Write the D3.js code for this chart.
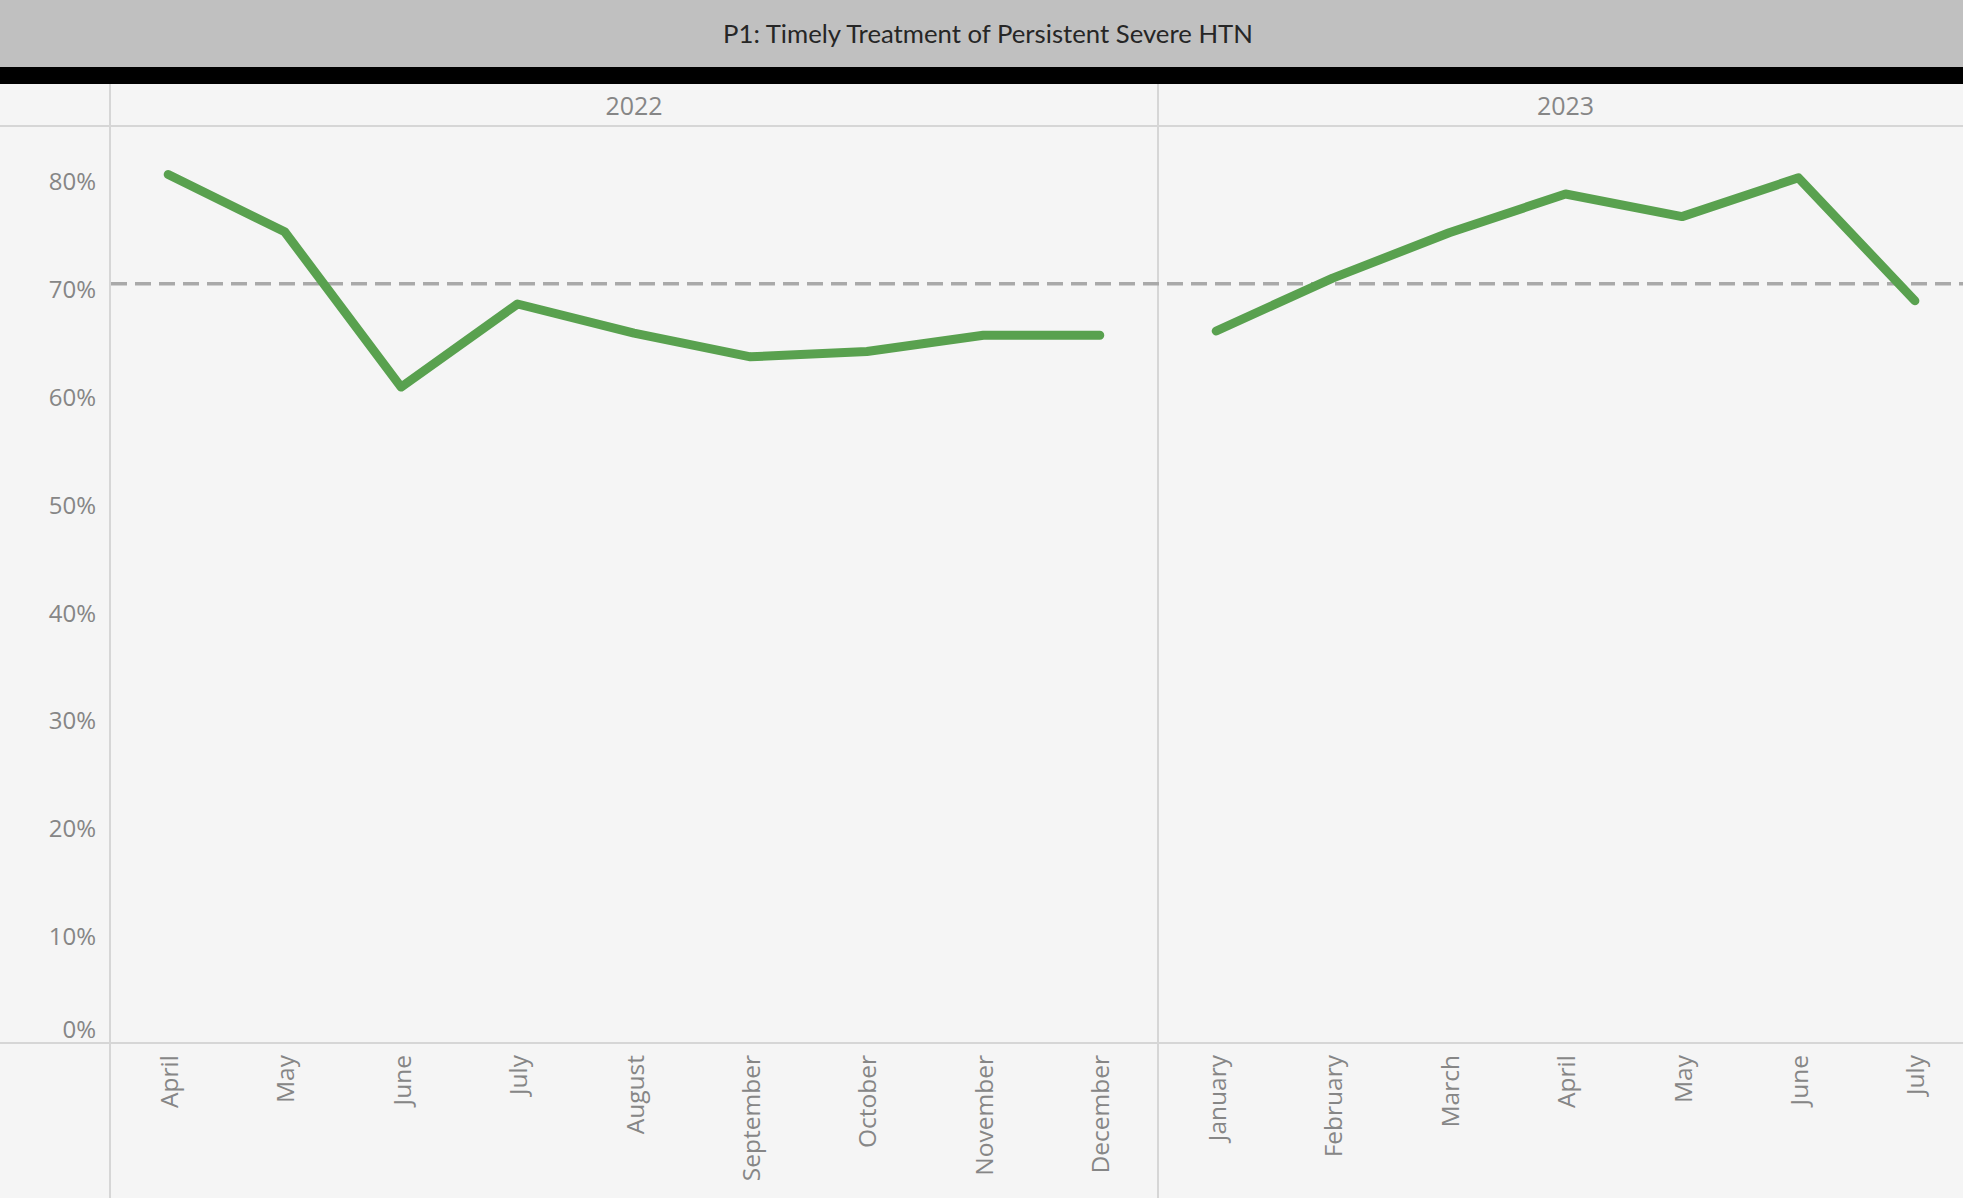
<!DOCTYPE html>
<html><head><meta charset="utf-8">
<script src="https://cdn.jsdelivr.net/npm/d3@7"></script>
<style>html,body{margin:0;padding:0;background:#f5f5f5;overflow:hidden}</style>
</head><body>
<svg id="c" width="1963" height="1198"></svg>
<script>
// ---- data ----
const title = "P1: Timely Treatment of Persistent Severe HTN";
const years = ["2022", "2023"];
const months2022 = ["April","May","June","July","August","September","October","November","December"];
const months2023 = ["January","February","March","April","May","June","July"];
const values2022 = [0.805, 0.752, 0.608, 0.685, 0.658, 0.636, 0.641, 0.656, 0.656];
const values2023 = [0.660, 0.709, 0.751, 0.787, 0.766, 0.802, 0.688];
const yTicks = [0, 0.1, 0.2, 0.3, 0.4, 0.5, 0.6, 0.7, 0.8];

// ---- layout ----
const W = 1963, H = 1198;
const titleH = 67, blackBottom = 84, headerBottom = 126;
const axisX = 110, plotBottom = 1043;
const step = (1158 - axisX) / months2022.length;
const font = "'Open Sans', sans-serif";
const textGray = "#868686";
const lineGray = "#d6d6d6";

const rows = [];
months2022.forEach((m, i) => rows.push({year: years[0], month: m, value: values2022[i], key: years[0] + "-" + m}));
months2023.forEach((m, i) => rows.push({year: years[1], month: m, value: values2023[i], key: years[1] + "-" + m}));

const svg = d3.select("#c");
const x = d3.scaleBand().domain(rows.map(d => d.key)).range([axisX, axisX + rows.length * step]).padding(0);
const y = d3.scaleLinear().domain([0, 0.85]).range([plotBottom, headerBottom]);
const cx = d => x(d.key) + x.bandwidth() / 2;

// background
svg.append("rect").attr("width", W).attr("height", H).attr("fill", "#f5f5f5");
// title bar
svg.append("rect").attr("width", W).attr("height", titleH).attr("fill", "#c0c0c0");
svg.append("rect").attr("y", titleH).attr("width", W).attr("height", blackBottom - titleH).attr("fill", "#000");
const t = svg.append("text").attr("x", 988).attr("y", 33).attr("text-anchor", "middle")
  .attr("dominant-baseline", "central").attr("fill", "#262626")
  .style("font-family", "Lato, sans-serif").style("font-size", "22px").text(title);
const tl = t.node().getComputedTextLength();
t.style("font-size", (22 * 530 / tl).toFixed(2) + "px");

// pane lines
const divX = x(years[1] + "-" + months2023[0]);
svg.append("line").attr("x1", 0).attr("x2", W).attr("y1", headerBottom).attr("y2", headerBottom)
  .attr("stroke", lineGray).attr("stroke-width", 2);
svg.append("line").attr("x1", 0).attr("x2", W).attr("y1", plotBottom).attr("y2", plotBottom)
  .attr("stroke", lineGray).attr("stroke-width", 2);
[axisX, divX].forEach(xx => svg.append("line").attr("x1", xx).attr("x2", xx)
  .attr("y1", blackBottom).attr("y2", H).attr("stroke", lineGray).attr("stroke-width", 2));

// year headers
years.forEach(yr => {
  const ks = rows.filter(d => d.year === yr).map(d => d.key);
  const x0 = x(ks[0]), x1 = x(ks[ks.length - 1]) + x.bandwidth();
  svg.append("text").attr("x", (x0 + x1) / 2).attr("y", 105).attr("text-anchor", "middle")
    .attr("dominant-baseline", "central").attr("fill", textGray)
    .style("font-family", font).style("font-size", "25px").text(yr);
});

// y axis
const yAxis = d3.axisLeft(y).tickValues(yTicks).tickFormat(d3.format(".0%")).tickSize(0).tickPadding(0);
const ga = svg.append("g").attr("transform", `translate(${axisX - 14},0)`).call(yAxis);
ga.select(".domain").remove();
ga.selectAll("text").attr("fill", textGray).style("font-family", font).style("font-size", "24px")
  .attr("dy", d => d === 0 ? "-0.25em" : "0.4em");

// average reference line
const avg = d3.mean(rows, d => d.value);
svg.append("line").attr("x1", axisX + 1).attr("x2", W).attr("y1", y(avg)).attr("y2", y(avg))
  .attr("stroke", "#a9a9a9").attr("stroke-width", 3.5).attr("stroke-dasharray", "16,8");

// lines
const line = d3.line().x(cx).y(d => y(d.value));
years.forEach(yr => {
  svg.append("path").datum(rows.filter(d => d.year === yr)).attr("d", line)
    .attr("fill", "none").attr("stroke", "#59a14f").attr("stroke-width", 9)
    .attr("stroke-linecap", "round").attr("stroke-linejoin", "round");
});

// month labels
svg.append("g").selectAll("text").data(rows).join("text")
  .attr("transform", d => `translate(${cx(d)},1055) rotate(-90)`)
  .attr("text-anchor", "end").attr("dominant-baseline", "central")
  .attr("fill", textGray).style("font-family", font).style("font-size", "24.5px")
  .text(d => d.month);
</script>
</body></html>
